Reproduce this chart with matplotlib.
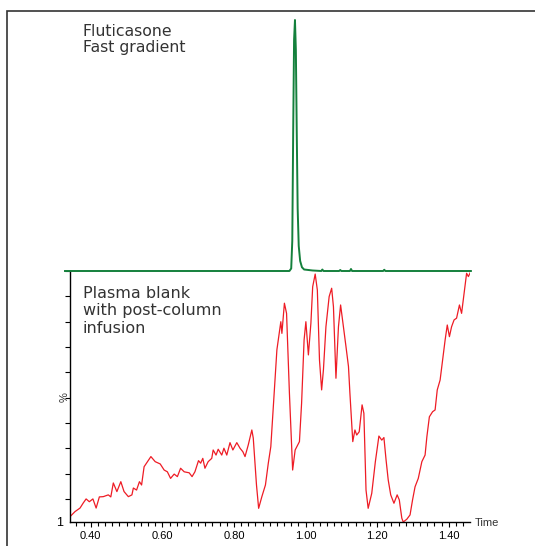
import matplotlib
matplotlib.use("Agg")
import matplotlib.pyplot as plt
import matplotlib.ticker as mtick
from matplotlib.patches import Rectangle

# post-column infusion trace (plasma blank), % of max
red_t = [0.342, 0.356, 0.370, 0.379, 0.387, 0.396, 0.406, 0.415, 0.424, 0.435,
         0.449, 0.456, 0.463, 0.473, 0.484, 0.493, 0.505, 0.515, 0.519, 0.528,
         0.536, 0.542, 0.549, 0.556, 0.568, 0.580, 0.594, 0.605, 0.614, 0.623,
         0.633, 0.642, 0.651, 0.661, 0.675, 0.683, 0.691, 0.701, 0.707, 0.713,
         0.719, 0.728, 0.738, 0.742, 0.750, 0.756, 0.766, 0.772, 0.780, 0.789,
         0.797, 0.808, 0.817, 0.825, 0.831, 0.840, 0.850, 0.854, 0.863, 0.869,
         0.878, 0.888, 0.896, 0.903, 0.910, 0.920, 0.927, 0.931, 0.934, 0.941,
         0.947, 0.955, 0.964, 0.971, 0.983, 0.989, 0.996, 1.001, 1.008, 1.015,
         1.020, 1.027, 1.033, 1.039, 1.045, 1.050, 1.057, 1.066, 1.073, 1.078,
         1.085, 1.092, 1.098, 1.106, 1.113, 1.120, 1.124, 1.132, 1.138, 1.143,
         1.150, 1.158, 1.163, 1.169, 1.175, 1.185, 1.195, 1.205, 1.213, 1.219,
         1.225, 1.231, 1.238, 1.247, 1.256, 1.262, 1.269, 1.273, 1.283, 1.292,
         1.299, 1.306, 1.315, 1.325, 1.334, 1.339, 1.346, 1.355, 1.362, 1.368,
         1.376, 1.383, 1.390, 1.396, 1.402, 1.408, 1.415, 1.422, 1.430, 1.436,
         1.443, 1.450, 1.455, 1.460]
red_v = [3.1, 5.1, 6.5, 8.5, 10.1, 9.0, 10.1, 6.5, 10.9, 11.0,
         11.7, 10.9, 16.4, 13.0, 16.9, 13.0, 11.0, 11.7, 14.4, 13.6,
         16.9, 15.6, 22.8, 24.3, 26.8, 24.8, 23.9, 21.5, 20.8, 18.2,
         19.9, 18.9, 22.2, 20.8, 20.4, 18.9, 20.8, 25.2, 24.2, 26.1,
         22.2, 24.8, 26.1, 29.4, 27.4, 29.7, 27.4, 30.1, 27.4, 32.3,
         29.4, 32.3, 30.1, 28.7, 26.8, 31.4, 37.3, 34.1, 15.6, 6.4,
         11.0, 15.6, 24.2, 30.7, 46.5, 68.9, 76.1, 80.0, 75.4, 87.3,
         83.3, 51.8, 21.5, 29.4, 32.7, 47.8, 72.8, 80.0, 66.9, 79.4,
         93.8, 98.8, 92.5, 64.9, 53.1, 61.0, 78.0, 89.9, 93.2, 85.9,
         57.7, 78.0, 86.6, 78.0, 70.2, 62.3, 51.8, 32.7, 37.3, 35.3,
         36.6, 47.2, 43.9, 13.6, 6.4, 12.3, 24.7, 34.9, 33.3, 34.3,
         25.5, 17.6, 11.7, 8.4, 11.7, 9.7, 2.5, 1.0, 2.1, 3.8,
         9.7, 14.9, 18.2, 24.8, 27.4, 34.6, 42.5, 44.5, 45.2, 53.1,
         57.0, 64.9, 72.8, 78.7, 74.1, 78.0, 80.7, 81.4, 86.6, 83.3,
         91.2, 99.1, 97.8, 99.3]

# fluticasone MRM trace, fast gradient
green_t = [0.328, 0.600, 0.900, 0.955, 0.960, 0.963, 0.9655, 0.968, 0.9705, 0.973,
           0.9755, 0.978, 0.981, 0.985, 0.990, 0.996, 1.020, 1.044, 1.047, 1.050,
           1.094, 1.097, 1.100, 1.124, 1.127, 1.130, 1.217, 1.220, 1.223, 1.462]
green_v = [0, 0, 0, 0, 1, 12, 55, 92, 100, 88,
           55, 25, 10, 4, 1.5, 0.6, 0.2, 0, 0.6, 0,
           0, 0.4, 0, 0, 0.8, 0, 0, 0.5, 0, 0]

x_major = [0.40, 0.60, 0.80, 1.00, 1.20, 1.40]
y_minor = [10, 20, 30, 40, 50, 60, 70, 80, 90, 100]

RED = "#ee1c25"
GREEN = "#14803c"
TXT = "#333333"
TICK_FONT = "Liberation Sans"

W, H = 535, 546
fig = plt.figure(figsize=(W / 100, H / 100), dpi=100)

# outer frame (only top and left edges visible)
fig.add_artist(Rectangle((7 / W, -0.5), 2.0, 1.5 - 11 / H, transform=fig.transFigure,
                         fill=False, edgecolor=TXT, linewidth=1.2))

ax = fig.add_axes([70 / W, 1 - 522 / H, 400 / W, 251 / H])
ax.plot(red_t, red_v, color=RED, linewidth=0.9)
ax.set_xlim(0.342, 1.4595)
ax.set_ylim(1, 100)
ax.spines[["top", "right"]].set_visible(False)
ax.spines[["left", "bottom"]].set_linewidth(1.0)

ax.set_xticks(x_major)
ax.xaxis.set_major_formatter(mtick.FormatStrFormatter("%.2f"))
ax.xaxis.set_minor_locator(mtick.MultipleLocator(0.02))
ax.tick_params(axis="x", which="major", length=3.5, width=0.8, pad=3, labelsize=8)
ax.tick_params(axis="x", which="minor", length=3, width=0.8)
for lbl in ax.get_xticklabels():
    lbl.set_fontfamily(TICK_FONT)

ax.set_yticks([1])
ax.set_yticklabels(["1"], fontfamily=TICK_FONT, fontsize=9)
ax.set_yticks(y_minor, minor=True)
ax.tick_params(axis="y", which="major", length=0, pad=5)
ax.tick_params(axis="y", which="minor", length=3.5, width=0.8)

ax.text(-0.0125, 0.498, "%", transform=ax.transAxes, rotation=90,
        ha="center", va="center", fontsize=8, fontfamily=TICK_FONT, color=TXT)
ax.text(1.0125, -0.004, "Time", transform=ax.transAxes, ha="left", va="center",
        fontsize=8, fontfamily=TICK_FONT, color=TXT)

gx = fig.add_axes([70 / W, 1 - 271 / H, 400 / W, 251 / H])
gx.plot(green_t, green_v, color=GREEN, linewidth=1.4, clip_on=False)
gx.set_xlim(0.342, 1.4595)
gx.set_ylim(0, 100)
gx.axis("off")

fig.text(83 / W, 1 - 24 / H, "Fluticasone\nFast gradient", ha="left", va="top",
         fontsize=11.3, fontfamily="DejaVu Sans", color=TXT, linespacing=1.12)
fig.text(83 / W, 1 - 286 / H, "Plasma blank\nwith post-column\ninfusion", ha="left", va="top",
         fontsize=11.5, fontfamily="DejaVu Sans", color=TXT, linespacing=1.2)

fig.savefig("out.png", dpi=100)
